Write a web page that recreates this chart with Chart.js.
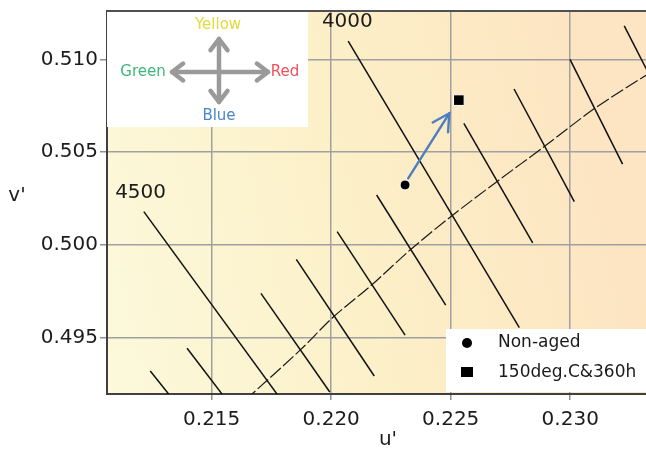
<!DOCTYPE html>
<html>
<head>
<meta charset="utf-8">
<title>u'v' chromaticity shift</title>
<script src="https://cdn.jsdelivr.net/npm/chart.js@4.4.1/dist/chart.umd.min.js"></script>
<style>
    html, body { margin: 0; padding: 0; background: #ffffff; overflow: hidden; }
    #wrap { width: 646px; height: 449px; }
    canvas { display: block; }
</style>
</head>
<body>
<div id="wrap"><canvas id="chromaChart" width="646" height="449"></canvas></div>
<script>
// Ejes
const xTicks = [0.215, 0.220, 0.225, 0.230];
const yTicks = [0.495, 0.500, 0.505, 0.510];
const xRange = [0.21062, 0.23317];
const yRange = [0.49194, 0.51261];

// Isotermas (CCT): punto inicial y final de cada linea
const isoStartU = [0.21243, 0.21397, 0.21216, 0.21706, 0.21854, 0.22025, 0.22190, 0.22071, 0.22555, 0.22765, 0.22999, 0.23226];
const isoStartV = [0.49318, 0.49441, 0.50178, 0.49737, 0.49921, 0.50070, 0.50268, 0.51099, 0.50655, 0.50840, 0.51000, 0.51181];
const isoEndU   = [0.21347, 0.21569, 0.21798, 0.21994, 0.22180, 0.22309, 0.22479, 0.22787, 0.22843, 0.23017, 0.23219, 0.23359];
const isoEndV   = [0.49150, 0.49150, 0.49150, 0.49205, 0.49291, 0.49512, 0.49674, 0.49552, 0.50010, 0.50232, 0.50435, 0.50845];

// Etiquetas de temperatura
const cctLabels = ['4500', '4000'];
const cctLabelU = [0.21096, 0.21961];
const cctLabelV = [0.50279, 0.51201];

// Locus de Planck
const locusU = [0.21640, 0.21871, 0.22010, 0.22169, 0.22330, 0.22504, 0.22693, 0.22894, 0.23103, 0.23330];
const locusV = [0.49160, 0.49432, 0.49611, 0.49782, 0.49971, 0.50155, 0.50340, 0.50532, 0.50736, 0.50925];

// Muestras
const sampleNames = ['Non-aged', '150deg.C&360h'];
const sampleU = [0.22309, 0.22534];
const sampleV = [0.50322, 0.50780];

// Flecha de desplazamiento (inicio, punta)
const arrowU = [0.22322, 0.22494];
const arrowV = [0.50358, 0.50709];

const FONT = "'DejaVu Sans', Verdana, sans-serif";

// Fondo degradado del area del grafico
const backgroundPlugin = {
    id: 'background',
    beforeDraw(chart) {
        const { ctx, chartArea: a } = chart;
        const g = ctx.createLinearGradient(a.left, a.bottom, a.right, a.bottom - 120);
        g.addColorStop(0, '#fcf9dc');
        g.addColorStop(0.5, '#fcf0c8');
        g.addColorStop(1, '#fde4c2');
        ctx.save();
        ctx.fillStyle = g;
        ctx.fillRect(a.left, a.top, a.right - a.left, a.bottom - a.top);
        ctx.restore();
    }
};

function drawArrowHead(ctx, x0, y0, x1, y1, len, spread) {
    const ang = Math.atan2(y1 - y0, x1 - x0);
    ctx.beginPath();
    ctx.moveTo(x1 - len * Math.cos(ang - spread), y1 - len * Math.sin(ang - spread));
    ctx.lineTo(x1, y1);
    ctx.lineTo(x1 - len * Math.cos(ang + spread), y1 - len * Math.sin(ang + spread));
    ctx.stroke();
}

// Flecha, etiquetas, recuadro de colores, leyenda y marco
const overlayPlugin = {
    id: 'overlay',
    afterDatasetsDraw(chart) {
        const { ctx, chartArea: a, scales } = chart;
        const sx = scales.x, sy = scales.y;
        ctx.save();

        // flecha azul
        const ax0 = sx.getPixelForValue(arrowU[0]), ay0 = sy.getPixelForValue(arrowV[0]);
        const ax1 = sx.getPixelForValue(arrowU[1]), ay1 = sy.getPixelForValue(arrowV[1]);
        ctx.strokeStyle = '#4a7fc1';
        ctx.lineWidth = 2.4;
        ctx.lineCap = 'round';
        ctx.beginPath();
        ctx.moveTo(ax0, ay0);
        ctx.lineTo(ax1, ay1);
        ctx.stroke();
        drawArrowHead(ctx, ax0, ay0, ax1, ay1, 19, 0.5);

        // etiquetas CCT
        ctx.fillStyle = '#1c1c1c';
        ctx.font = '20px ' + FONT;
        ctx.textAlign = 'left';
        ctx.textBaseline = 'middle';
        cctLabels.forEach((t, i) => {
            ctx.fillText(t, sx.getPixelForValue(cctLabelU[i]), sy.getPixelForValue(cctLabelV[i]));
        });

        // recuadro de direcciones de color
        const bx = a.left, by = a.top, bw = 201, bh = 116;
        ctx.fillStyle = '#ffffff';
        ctx.fillRect(bx, by, bw, bh);
        const cx = bx + 112, cy = by + 61;
        ctx.strokeStyle = '#9a9a9a';
        ctx.lineWidth = 4.5;
        ctx.lineCap = 'round';
        ctx.lineJoin = 'round';
        ctx.beginPath();
        ctx.moveTo(cx - 47, cy); ctx.lineTo(cx + 49, cy);
        ctx.moveTo(cx, cy - 33); ctx.lineTo(cx, cy + 30);
        ctx.stroke();
        drawArrowHead(ctx, cx, cy, cx + 49, cy, 14, 0.65);
        drawArrowHead(ctx, cx, cy, cx - 47, cy, 14, 0.65);
        drawArrowHead(ctx, cx, cy, cx, cy - 33, 14, 0.65);
        drawArrowHead(ctx, cx, cy, cx, cy + 30, 14, 0.65);
        ctx.font = '15px ' + FONT;
        ctx.textAlign = 'center';
        ctx.fillStyle = '#e2dc3a';
        ctx.fillText('Yellow', cx - 1, by + 14);
        ctx.fillStyle = '#3db87a';
        ctx.fillText('Green', cx - 76, cy);
        ctx.fillStyle = '#f0505a';
        ctx.fillText('Red', cx + 66, cy);
        ctx.fillStyle = '#4a86c8';
        ctx.fillText('Blue', cx, by + 105);

        // leyenda
        const lx = a.right - 200, ly = a.bottom - 65;
        ctx.fillStyle = '#ffffff';
        ctx.fillRect(lx, ly, 200, 63);
        ctx.fillStyle = '#000000';
        ctx.beginPath();
        ctx.arc(lx + 21, ly + 14, 5, 0, Math.PI * 2);
        ctx.fill();
        ctx.fillRect(lx + 15, ly + 38, 12, 10);
        ctx.fillStyle = '#1a1a1a';
        ctx.font = '17px ' + FONT;
        ctx.textAlign = 'left';
        ctx.fillText(sampleNames[0], lx + 52, ly + 14);
        ctx.fillText(sampleNames[1], lx + 52, ly + 44);

        // marco superior
        ctx.strokeStyle = '#505050';
        ctx.lineWidth = 2;
        ctx.beginPath();
        ctx.moveTo(a.left, a.top);
        ctx.lineTo(a.right, a.top);
        ctx.stroke();

        // titulos de ejes
        ctx.fillStyle = '#1c1c1c';
        ctx.font = '20px ' + FONT;
        ctx.textAlign = 'center';
        ctx.fillText("v'", 17, a.top + 185);
        ctx.fillText("u'", a.left + 281, a.bottom + 46);
        ctx.restore();
    }
};

// Conjuntos de datos
const datasets = [];
datasets.push({
    label: sampleNames[0],
    data: [{ x: sampleU[0], y: sampleV[0] }],
    pointStyle: 'circle',
    pointRadius: 5,
    backgroundColor: '#000000',
    borderColor: '#ffffff',
    borderWidth: 1
});
datasets.push({
    label: sampleNames[1],
    data: [{ x: sampleU[1], y: sampleV[1] }],
    pointStyle: 'rect',
    pointRadius: 7.5,
    backgroundColor: '#000000',
    borderColor: '#ffffff',
    borderWidth: 1
});
datasets.push({
    label: 'Planckian locus',
    data: locusU.map((u, i) => ({ x: u, y: locusV[i] })),
    showLine: true,
    borderColor: '#1a1a1a',
    borderWidth: 1.2,
    borderDash: [14, 3],
    pointRadius: 0,
    tension: 0.3
});
isoStartU.forEach((u, i) => {
    datasets.push({
        label: 'iso' + i,
        data: [{ x: u, y: isoStartV[i] }, { x: isoEndU[i], y: isoEndV[i] }],
        showLine: true,
        borderColor: '#111111',
        borderWidth: 1.5,
        pointRadius: 0
    });
});

new Chart(document.getElementById('chromaChart'), {
    type: 'scatter',
    data: { datasets: datasets },
    options: {
        responsive: false,
        animation: false,
        events: [],
        layout: { autoPadding: false, padding: { top: 11, right: 0, left: 0, bottom: 0 } },
        plugins: {
            legend: { display: false },
            tooltip: { enabled: false }
        },
        scales: {
            x: {
                type: 'linear',
                min: xRange[0],
                max: xRange[1],
                afterBuildTicks: axis => { axis.ticks = xTicks.map(v => ({ value: v })); },
                afterFit: axis => {
                    axis.height = 55;
                    axis.paddingLeft = 0;
                    axis.paddingRight = 0;
                },
                ticks: {
                    font: { family: FONT, size: 20 },
                    color: '#1c1c1c',
                    padding: 8,
                    callback: v => v.toFixed(3)
                },
                grid: { color: '#a0a0a0', lineWidth: 1.5, tickLength: 6, tickColor: '#909090' },
                border: { color: '#404040', width: 2 }
            },
            y: {
                type: 'linear',
                min: yRange[0],
                max: yRange[1],
                afterBuildTicks: axis => { axis.ticks = yTicks.map(v => ({ value: v })); },
                afterFit: axis => {
                    axis.width = 107;
                    axis.paddingTop = 0;
                    axis.paddingBottom = 0;
                },
                ticks: {
                    font: { family: FONT, size: 20 },
                    color: '#1c1c1c',
                    padding: 2,
                    callback: v => v.toFixed(3)
                },
                grid: { color: '#a0a0a0', lineWidth: 1.5, tickLength: 7, tickColor: '#909090' },
                border: { color: '#404040', width: 2 }
            }
        }
    },
    plugins: [backgroundPlugin, overlayPlugin]
});
</script>
</body>
</html>
